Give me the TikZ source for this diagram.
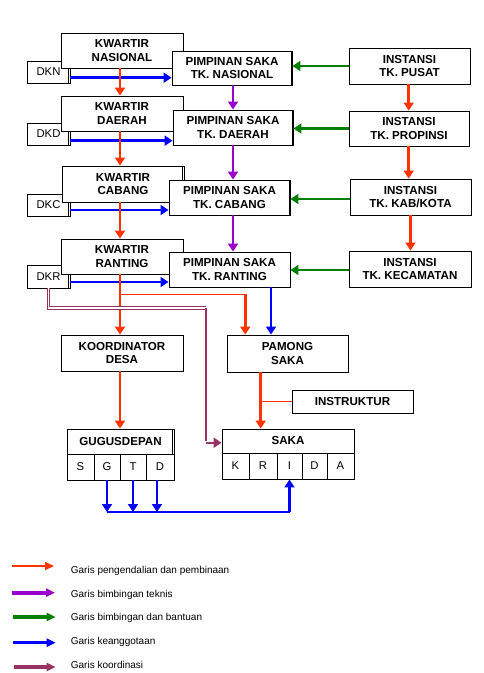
\documentclass[tikz,border=0pt]{standalone}
\usepackage{fontspec}
\setmainfont{Liberation Sans}
\usetikzlibrary{arrows.meta}
\definecolor{cred}{HTML}{FF3300}
\definecolor{cpur}{HTML}{9900CC}
\definecolor{cgrn}{HTML}{008000}
\definecolor{cblu}{HTML}{0000FF}
\definecolor{cmar}{HTML}{993366}
\tikzset{
  box/.style={draw=black, fill=white, line width=0.9pt, inner sep=0pt, align=center, font=\bfseries\fontsize{11.6}{13.3}\selectfont},
  sbox/.style={draw=black, fill=white, line width=0.9pt, inner sep=0pt, align=center, font=\fontsize{11.3}{13}\selectfont},
  tipm/.style={-{Triangle[length=8pt,width=10pt]}},
  tipl/.style={-{Triangle[length=9pt,width=8pt]}},
  ctrl/.style={cred, line width=2.5pt, tipm},
  ctrlthin/.style={cred, line width=1pt},
  tech/.style={cpur, line width=2.5pt, tipm},
  guide/.style={cgrn, line width=2.5pt, tipm},
  memb/.style={cblu, line width=2.5pt, tipm},
  membthin/.style={cblu, line width=1.2pt},
  coordl/.style={cmar, line width=1.8pt},
  coorddbl/.style={cmar, line width=1.1pt, double=white, double distance=1.1pt},
  legtext/.style={font=\fontsize{10}{12}\selectfont, anchor=base west, inner sep=0pt},
}
\newcommand\Bx[7][box]{\node[#1, minimum width={#5pt-#3pt}, minimum height={#6pt-#4pt}] (#2) at ({(#3+#5)/2},{(#4+#6)/2}) {#7};}
\newcommand\Dbl[1]{\draw[line width=0.9pt] ([xshift=-1.8pt]#1.north east) -- ([xshift=-1.8pt]#1.south east);}
\newcommand\Thk[1]{\draw[line width=1.8pt] ([xshift=-0.5pt]#1.north east) -- ([xshift=-0.5pt]#1.south east);}
\begin{document}
\begin{tikzpicture}[x=1pt,y=-1pt]
\useasboundingbox[fill=white] (0,0) rectangle (484,673);

% left column
\Bx[sbox]{DKN}{27}{61}{70}{83}{DKN}\Dbl{DKN}
\Bx{KN}{61}{33}{183}{68}{KWARTIR\\NASIONAL}
\Bx[sbox]{DKD}{27}{123}{70}{145}{DKD}\Dbl{DKD}
\Bx{KD}{61}{96}{183}{131}{KWARTIR\\DAERAH}
\Bx[sbox]{DKC}{27}{194}{70}{216}{DKC}\Dbl{DKC}
\Bx{KC}{62}{166}{184}{202}{KWARTIR\\CABANG}\Dbl{KC}
\Bx[sbox]{DKR}{27}{265}{70}{288}{DKR}\Dbl{DKR}
\Bx{KR}{61}{239}{183}{274}{KWARTIR\\RANTING}

% middle column
\Bx{PN}{172}{51}{292}{85}{PIMPINAN SAKA\\TK. NASIONAL}\Thk{PN}
\Bx{PD}{173}{110}{293}{145}{PIMPINAN SAKA\\TK. DAERAH}\Thk{PD}
\Bx{PC}{169}{180}{290}{215}{PIMPINAN SAKA\\TK. CABANG}\Thk{PC}
\Bx{PR}{169}{252}{290}{287}{PIMPINAN SAKA\\TK. RANTING}

% right column
\Bx{IP}{349}{48}{470}{84}{INSTANSI\\TK. PUSAT}
\Bx{IPR}{349}{111}{469}{146}{INSTANSI\\TK. PROPINSI}
\Bx{IK}{350}{179}{471}{215}{INSTANSI\\TK. KAB/KOTA}
\Bx{IC}{349}{251}{471}{287}{INSTANSI\\TK. KECAMATAN}

% lower part
\Bx{KDS}{61}{335}{183}{371}{KOORDINATOR\\DESA}
\Bx{PS}{227}{335}{348}{372}{PAMONG\\SAKA}
\Bx{INS}{292}{390}{413}{413}{INSTRUKTUR}
\Bx{GD}{67}{429}{174}{454}{GUGUSDEPAN}\Dbl{GD}
\Bx[sbox]{cS}{67}{454}{94}{480}{S}
\Bx[sbox]{cG}{94}{454}{120}{480}{G}
\Bx[sbox]{cT}{120}{454}{146}{480}{T}
\Bx[sbox]{cD}{146}{454}{174}{480}{D}
\Bx{SK}{222}{429}{354}{453}{SAKA}
\Bx[sbox]{kK}{222}{453}{249}{479}{K}
\Bx[sbox]{kR}{249}{453}{277}{479}{R}
\Bx[sbox]{kI}{277}{453}{302}{479}{I}
\Bx[sbox]{kD}{302}{453}{327}{479}{D}
\Bx[sbox]{kA}{327}{453}{354}{479}{A}

% membership arrows DK* -> PIMPINAN
\coordinate (b1) at ([yshift=-5.7pt]DKN.east);
\coordinate (b2) at ([yshift=-6.7pt]DKD.east);
\coordinate (b3) at ([yshift=-5pt]DKC.east);
\coordinate (b4) at ([yshift=-5.5pt]DKR.east);
\draw[memb] (b1) -- (b1 -| PN.west);
\draw[memb] (b2) -- (b2 -| PD.west);
\draw[memb] (b3) -- (b3 -| PC.west);
\draw[memb] (b4) -- (b4 -| PR.west);

% control chain kwartir
\coordinate (kx) at ([xshift=-2pt]KN.south);
\draw[ctrl] (kx) -- (kx |- KD.north);
\draw[ctrl] (kx |- KD.south) -- (kx |- KC.north);
\draw[ctrl] (kx |- KC.south) -- (kx |- KR.north);
\draw[ctrl] (kx |- KR.south) -- (kx |- KDS.north);
\draw[ctrl] (kx |- KDS.south) -- (kx |- GD.north);

% branch to pamong
\coordinate (br) at ([yshift=-20pt]kx |- KR.south);
\coordinate (px) at ([xshift=18.7pt]PS.north west);
\draw[ctrlthin] (br) -- (br -| px);
\draw[ctrl] (br -| px) -- (px);

% technical guidance
\coordinate (tx) at ([xshift=1pt]PN.south);
\draw[tech] (tx) -- (tx |- PD.north);
\draw[tech] (tx |- PD.south) -- (tx |- PC.north);
\draw[tech] (tx |- PC.south) -- (tx |- PR.north);

% guidance instansi -> pimpinan
\draw[guide] (IP.west) -- (IP.west -| PN.east);
\draw[guide] (IPR.west) -- (IPR.west -| PD.east);
\draw[guide] ([yshift=-2pt]IK.west) -- ([yshift=-2pt]IK.west -| PC.east);
\draw[guide] ([yshift=-1pt]IC.west) -- ([yshift=-1pt]IC.west -| PR.east);

% control chain instansi
\draw[ctrl] ([xshift=-0.8pt]IP.south) -- ([xshift=-0.8pt]IP.south |- IPR.north);
\draw[ctrl] ([xshift=-0.3pt]IPR.south) -- ([xshift=-0.3pt]IPR.south |- IK.north);
\draw[ctrl] (IK.south) -- (IK.south |- IC.north);

% pimpinan ranting -> pamong
\coordinate (rx) at ([xshift=41.5pt]PR.south);
\draw[memb] (rx) -- (rx |- PS.north);

% pamong -> saka, instruktur
\coordinate (sx) at ([xshift=-26.8pt]PS.south);
\draw[ctrl] (sx) -- (sx |- SK.north);
\draw[ctrlthin] (INS.west) -- (INS.west -| sx);

% coordination line
\coordinate (m1) at (205.7,308);
\draw[coorddbl] (DKR.south) |- (m1);
\draw[coordl] (m1) -- (m1 |- SK.west);
\draw[cmar, line width=2.4pt, tipm] ([yshift=-1.7pt]m1 |- SK.west) -- ([yshift=-1.7pt]SK.west);

% membership gugusdepan -> saka
\coordinate (bus) at (0,512);
\draw[memb] (cG.south) -- (cG.south |- bus);
\draw[memb] (cT.south) -- (cT.south |- bus);
\draw[memb] ([xshift=-3pt]cD.south) -- ([xshift=-3pt]cD.south |- bus);
\draw[membthin] (cG.south |- bus) -- (kI.south |- bus);
\draw[memb] (kI.south |- bus) -- (kI.south);

% legend
\coordinate (l1) at (12,566);
\coordinate (l2) at (12,592.7);
\coordinate (l3) at (13.3,617);
\coordinate (l4) at (13.3,642.7);
\coordinate (l5) at (14,667);
\draw[cred, line width=2pt, tipl] (l1) -- ++(42,0);
\draw[cpur, line width=4pt, tipl] (l2) -- ++(43,0);
\draw[cgrn, line width=3.3pt, tipl] (l3) -- ++(42.4,0);
\draw[cblu, line width=3pt, tipl] (l4) -- ++(42.4,0);
\draw[cmar, line width=3.7pt, tipl] (l5) -- ++(41.7,0);
\node[legtext] (t1) at (70.7,573.3) {Garis pengendalian dan pembinaan};
\node[legtext] (t2) at (70.7,597.7) {Garis bimbingan teknis};
\node[legtext] (t3) at (70.7,620.7) {Garis bimbingan dan bantuan};
\node[legtext] (t4) at (70.7,644.7) {Garis keanggotaan};
\node[legtext] (t5) at (70.7,668) {Garis koordinasi};
\end{tikzpicture}
\end{document}
